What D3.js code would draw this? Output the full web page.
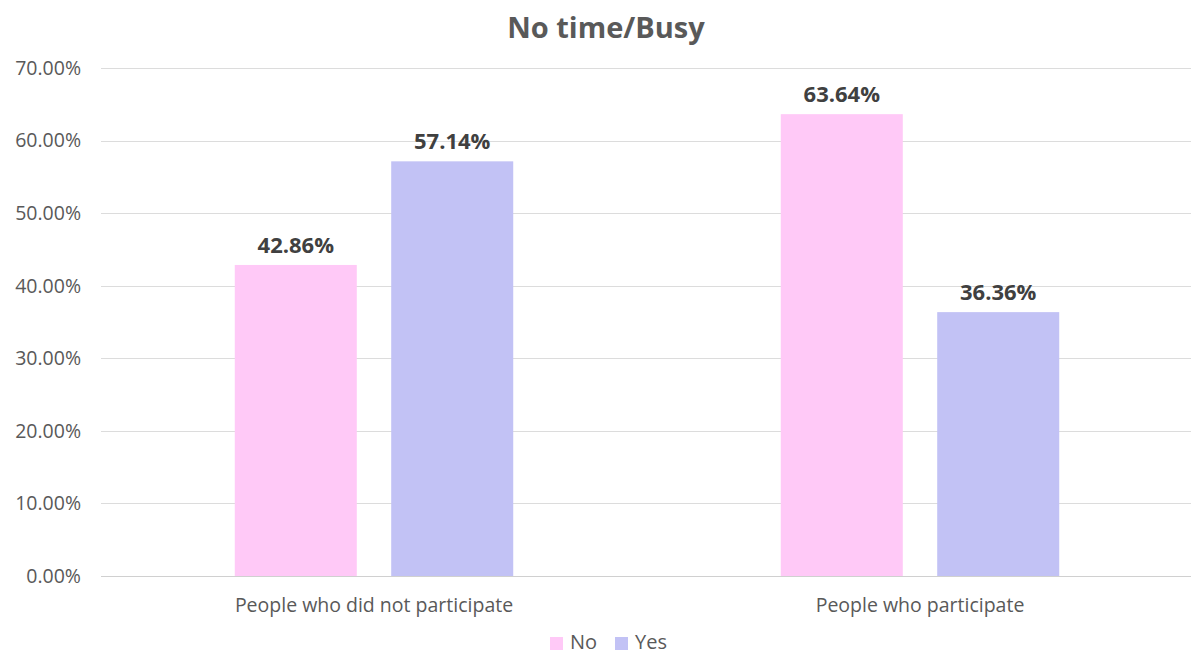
<!DOCTYPE html>
<html>
<head>
<meta charset="utf-8">
<script src="https://cdn.jsdelivr.net/npm/d3@7"></script>
<style>
  body { margin: 0; background: #fff; }
  text { font-family: "Open Sans", sans-serif; }
</style>
</head>
<body>
<div id="wrapper"></div>
<script>
const categories = ["People who did not participate", "People who participate"];
const seriesNames = ["No", "Yes"];
const noValues = [0.4286, 0.6364];
const yesValues = [0.5714, 0.3636];
const yTicks = [0, 0.1, 0.2, 0.3, 0.4, 0.5, 0.6, 0.7];
const colors = ["#FFC9F7", "#C2C2F5"];

const dimension = {
    width: 1191,
    height: 655,
    margin: { top: 68, right: -2, bottom: 79, left: 101 }
};
dimension.boundedWidth = dimension.width - dimension.margin.left - dimension.margin.right;
dimension.boundedHeight = dimension.height - dimension.margin.top - dimension.margin.bottom;

const data = categories.map((c, i) => ({
    category: c,
    values: [
        { key: "No", value: noValues[i] },
        { key: "Yes", value: yesValues[i] }
    ]
}));

const wrapper = d3.select("#wrapper")
    .append("svg")
    .attr("width", dimension.width)
    .attr("height", dimension.height);

const bounds = wrapper.append("g")
    .attr("transform", `translate(${dimension.margin.left},${dimension.margin.top})`);

const x0 = d3.scaleBand()
    .domain(categories)
    .range([0, dimension.boundedWidth])
    .paddingInner(0.49)
    .paddingOuter(0.245);

const x1 = d3.scaleBand()
    .domain(seriesNames)
    .range([0, x0.bandwidth()])
    .paddingInner(0.22);

const y = d3.scaleLinear()
    .domain([0, 0.7])
    .range([dimension.boundedHeight, 0]);

const color = d3.scaleOrdinal().domain(seriesNames).range(colors);

// gridlines
bounds.append("g")
    .selectAll("line")
    .data(yTicks)
    .enter()
    .append("line")
    .attr("x1", 0)
    .attr("x2", dimension.width - dimension.margin.left)
    .attr("y1", d => Math.round(y(d)) + 0.5)
    .attr("y2", d => Math.round(y(d)) + 0.5)
    .attr("stroke", d => d === 0 ? "#d0d0d0" : "#dcdcdc")
    .attr("stroke-width", 1);

// y labels
bounds.append("g")
    .selectAll("text")
    .data(yTicks)
    .enter()
    .append("text")
    .attr("x", -20)
    .attr("y", d => y(d))
    .attr("dy", "0.35em")
    .attr("text-anchor", "end")
    .attr("fill", "#595959")
    .style("font-size", "19.5px")
    .text(d3.format(".2%"));

// bars
const groups = bounds.append("g")
    .selectAll("g")
    .data(data)
    .enter()
    .append("g")
    .attr("transform", d => `translate(${x0(d.category)},0)`);

groups.selectAll("rect")
    .data(d => d.values)
    .enter()
    .append("rect")
    .attr("x", d => x1(d.key))
    .attr("width", x1.bandwidth())
    .attr("y", d => y(d.value))
    .attr("height", d => y(0) - y(d.value))
    .attr("fill", d => color(d.key));

groups.selectAll("text")
    .data(d => d.values)
    .enter()
    .append("text")
    .attr("x", d => x1(d.key) + x1.bandwidth() / 2)
    .attr("y", d => y(d.value) - 12)
    .attr("text-anchor", "middle")
    .attr("fill", "#404040")
    .style("font-size", "22px")
    .style("font-weight", "bold")
    .text(d => d3.format(".2%")(d.value));

// category labels
bounds.append("g")
    .selectAll("text")
    .data(categories)
    .enter()
    .append("text")
    .attr("x", d => x0(d) + x0.bandwidth() / 2)
    .attr("y", dimension.boundedHeight + 36)
    .attr("text-anchor", "middle")
    .attr("fill", "#595959")
    .style("font-size", "19.5px")
    .text(d => d);

// title
wrapper.append("text")
    .attr("x", 606)
    .attr("y", 38)
    .attr("text-anchor", "middle")
    .attr("fill", "#595959")
    .style("font-size", "29px")
    .style("font-weight", "bold")
    .text("No time/Busy");

// legend
const legend = wrapper.append("g")
    .attr("transform", "translate(550,642)");

const items = legend.selectAll("g")
    .data(seriesNames)
    .enter()
    .append("g")
    .attr("transform", (d, i) => `translate(${i * 65},0)`);

items.append("rect")
    .attr("x", 0)
    .attr("y", -5)
    .attr("width", 13)
    .attr("height", 13)
    .attr("fill", d => color(d));

items.append("text")
    .attr("x", 20)
    .attr("y", 0)
    .attr("dy", "0.35em")
    .attr("fill", "#595959")
    .style("font-size", "20px")
    .text(d => d);
</script>
</body>
</html>
